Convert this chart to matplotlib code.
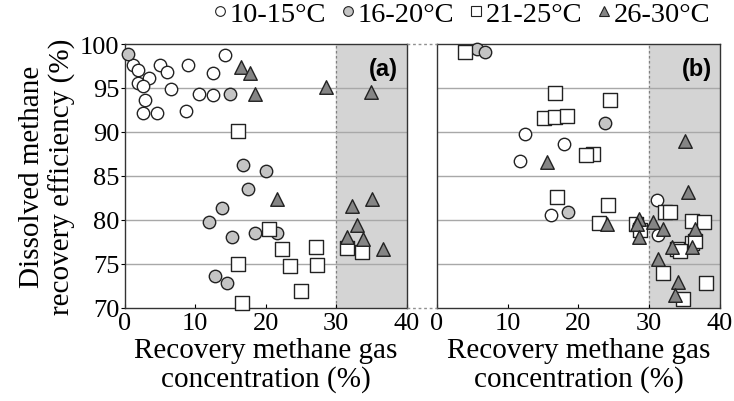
import matplotlib
matplotlib.use("Agg")
import matplotlib.pyplot as plt
from matplotlib.lines import Line2D
from matplotlib import font_manager


def font_file(family, style_hint):
    for f in font_manager.fontManager.ttflist:
        if f.name == family and f.fname.endswith(style_hint):
            return f.fname
    return font_manager.findfont(font_manager.FontProperties(family=family))


SERIF_FILE = font_file('Liberation Serif', 'LiberationSerif-Regular.ttf')
SANS_BOLD_FILE = font_file('Liberation Sans', 'LiberationSans-Bold.ttf')


def serif(size):
    return font_manager.FontProperties(fname=SERIF_FILE, size=size)


GROUPS = ["10-15°C", "16-20°C", "21-25°C", "26-30°C"]

# panel (a): recovered gas concentration (%) vs dissolved methane recovery efficiency (%)
a_x_10 = [1.2, 1.9, 5.0, 6.0, 9.0, 14.2, 12.5, 1.9, 3.4, 2.6, 6.6, 10.6, 12.5, 2.9, 2.6, 4.6, 8.7]
a_y_10 = [97.6, 97.0, 97.6, 96.8, 97.6, 98.8, 96.7, 95.6, 96.1, 95.2, 94.9, 94.3, 94.2, 93.6, 92.2, 92.2, 92.4]
a_x_16 = [0.4, 14.9, 16.8, 20.1, 17.5, 13.8, 12.0, 18.5, 21.6, 15.2, 12.8, 14.5]
a_y_16 = [98.9, 94.3, 86.2, 85.6, 83.5, 81.3, 79.7, 78.5, 78.5, 78.0, 73.6, 72.8]
a_x_21 = [16.1, 20.5, 22.3, 27.2, 16.1, 23.5, 27.3, 25.0, 16.6, 31.6, 33.7]
a_y_21 = [90.1, 79.0, 76.7, 76.9, 75.0, 74.7, 74.9, 71.9, 70.5, 76.8, 76.3]
a_x_26 = [16.5, 17.7, 18.5, 28.6, 35.0, 21.6, 32.2, 35.1, 33.0, 31.6, 33.8, 36.7]
a_y_26 = [97.4, 96.7, 94.3, 95.1, 94.5, 82.4, 81.6, 82.4, 79.4, 78.1, 77.8, 76.7]

# panel (b)
b_x_10 = [12.5, 18.0, 11.7, 16.1, 31.1, 31.3]
b_y_10 = [89.8, 88.6, 86.7, 80.5, 82.2, 78.3]
b_x_16 = [5.7, 6.8, 23.8, 18.5]
b_y_16 = [99.4, 99.1, 91.0, 80.9]
b_x_21 = [4.0, 16.7, 24.4, 15.2, 16.7, 18.4, 22.0, 21.1, 17.0, 24.2, 22.9, 28.1, 28.7,
          32.2, 33.0, 36.0, 37.7, 36.0, 36.5, 33.9, 34.3, 31.9, 38.0, 34.8]
b_y_21 = [99.1, 94.4, 93.6, 91.6, 91.7, 91.8, 87.5, 87.4, 82.6, 81.7, 79.6, 79.5, 78.8,
          80.9, 80.9, 79.9, 79.8, 77.4, 77.6, 76.7, 76.4, 74.0, 72.8, 71.0]
b_x_26 = [15.5, 35.1, 35.5, 24.0, 28.6, 28.3, 28.5, 30.5, 32.0, 36.5, 33.2, 36.1, 31.3, 34.0, 33.6]
b_y_26 = [86.6, 89.0, 83.2, 79.5, 80.1, 79.5, 78.1, 79.8, 79.0, 79.0, 76.9, 76.9, 75.5, 72.9, 71.4]

X_TICKS = [0, 10, 20, 30, 40]
Y_TICKS = [70, 75, 80, 85, 90, 95, 100]

styles = [
    dict(marker='o', facecolor='white', s=80),
    dict(marker='o', facecolor='#c4c4c4', s=80),
    dict(marker='s', facecolor='white', s=95),
    dict(marker='^', facecolor='#858585', s=95),
]

fig = plt.figure(figsize=(7.34, 4.02), dpi=100)
ax_a = fig.add_axes([0.170, 0.232, 0.384, 0.656])
ax_b = fig.add_axes([0.595, 0.232, 0.386, 0.656])

panels = [
    (ax_a, "(a)", [(a_x_10, a_y_10), (a_x_16, a_y_16), (a_x_21, a_y_21), (a_x_26, a_y_26)]),
    (ax_b, "(b)", [(b_x_10, b_y_10), (b_x_16, b_y_16), (b_x_21, b_y_21), (b_x_26, b_y_26)]),
]

for ax, tag, series in panels:
    ax.set_xlim(0, 40)
    ax.set_ylim(70, 100)
    ax.axvspan(30, 40, color='#d4d4d4', zorder=0)
    ax.axvline(30, color='#808080', lw=0.9, ls=(0, (2, 2)), zorder=1)
    for yv in Y_TICKS[1:-1]:
        ax.axhline(yv, color='#a8a8a8', lw=1.0, zorder=1)
    for (xs, ys), st in zip(series, styles):
        ax.scatter(xs, ys, marker=st['marker'], s=st['s'], facecolor=st['facecolor'],
                   edgecolor='#222222', linewidths=1.0, zorder=3, clip_on=False)
    ax.text(0.97, 0.95, tag, transform=ax.transAxes, ha='right', va='top', zorder=4,
            fontproperties=font_manager.FontProperties(fname=SANS_BOLD_FILE, size=17))
    ax.set_xticks(X_TICKS)
    ax.set_xticklabels([str(t) for t in X_TICKS], fontproperties=serif(19))
    ax.set_yticks(Y_TICKS)
    ax.set_yticklabels([str(t) for t in Y_TICKS], fontproperties=serif(19))
    ax.tick_params(axis='x', direction='in', length=3, pad=3)
    ax.tick_params(axis='y', direction='out', length=3, pad=1)
    for sp in ax.spines.values():
        sp.set_color('#333333')
        sp.set_linewidth(1.0)
    ax.set_xlabel("Recovery methane gas\nconcentration (%)", fontproperties=serif(21),
                  linespacing=1.1, labelpad=2)

ax_b.tick_params(axis='y', left=False, labelleft=False)
ax_a.set_ylabel("Dissolved methane\nrecovery efficiency (%)", fontproperties=serif(21),
                linespacing=1.15, labelpad=3)

# dotted connectors between the two panels at the top and bottom of the y range
for yv in [100, 70]:
    p0 = fig.transFigure.inverted().transform(ax_a.transData.transform((40, yv)))
    p1 = fig.transFigure.inverted().transform(ax_b.transData.transform((0, yv)))
    fig.add_artist(Line2D([p0[0], p1[0]], [p0[1], p1[1]], transform=fig.transFigure,
                          color='#909090', lw=1.0, ls=(0, (2, 2))))

handles = [Line2D([], [], ls='none', marker=st['marker'], markerfacecolor=st['facecolor'],
                  markeredgecolor='#222222', markeredgewidth=0.8, markersize=7)
           for st in styles]
fig.legend(handles, GROUPS, loc='center', bbox_to_anchor=(0.628, 0.962), ncol=4,
           frameon=False, prop=serif(20.5), handlelength=0.6,
           handletextpad=0.05, columnspacing=0.45, borderpad=0)

fig.savefig("out.png", dpi=100)
